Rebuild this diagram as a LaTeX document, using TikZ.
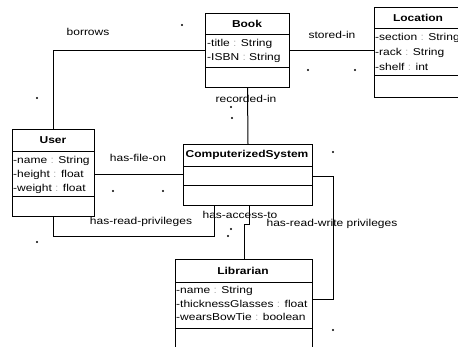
\documentclass[tikz,border=0pt]{standalone}
\usepackage{fontspec}
\setmainfont{Liberation Sans}[FakeStretch=1.2]
\begin{document}
\begin{tikzpicture}[x=1pt,y=-1pt,
  box/.style={draw, line width=1pt, inner sep=0pt, anchor=north west},
  hd/.style={font=\fontsize{10}{12}\selectfont\bfseries, inner sep=0pt},
  attr/.style={font=\fontsize{10}{12}\selectfont, anchor=west, inner sep=0pt},
  lbl/.style={font=\fontsize{10}{12}\selectfont, inner sep=0pt},
  conn/.style={line width=1pt},
  sep/.style={line width=1pt}]
\newcommand{\cl}{\textcolor{black!30}{:}}
\useasboundingbox (0,0) rectangle (458,347);
\clip (0,0) rectangle (458,347);

% class boxes
\node[box, minimum width=84pt, minimum height=74pt] (book) at (205,13) {};
\node[box, minimum width=92pt, minimum height=90pt] (loc) at (374,7) {};
\node[box, minimum width=82pt, minimum height=87pt] (user) at (12,129) {};
\node[box, minimum width=129pt, minimum height=61pt] (comp) at (183,144) {};
\node[box, minimum width=137pt, minimum height=95pt] (lib) at (175,259) {};

% compartments
\draw[sep] ([yshift=-22pt]book.north west) -- ([yshift=-22pt]book.north east);
\draw[sep] ([yshift=-55pt]book.north west) -- ([yshift=-55pt]book.north east);
\draw[sep] ([yshift=-22pt]loc.north west) -- ([yshift=-22pt]loc.north east);
\draw[sep] ([yshift=-69pt]loc.north west) -- ([yshift=-69pt]loc.north east);
\draw[sep] ([yshift=-23pt]user.north west) -- ([yshift=-23pt]user.north east);
\draw[sep] ([yshift=-68pt]user.north west) -- ([yshift=-68pt]user.north east);
\draw[sep] ([yshift=-23pt]comp.north west) -- ([yshift=-23pt]comp.north east);
\draw[sep] ([yshift=-42pt]comp.north west) -- ([yshift=-42pt]comp.north east);
\draw[sep] ([yshift=-24pt]lib.north west) -- ([yshift=-24pt]lib.north east);
\draw[sep] ([yshift=-70pt]lib.north west) -- ([yshift=-70pt]lib.north east);

% headers
\node[hd] (bookh) at (247,24) {Book};
\node[hd] (loch) at (418,18) {Location};
\node[hd] (userh) at (53,140) {User};
\node[hd] (comph) at (247,155) {ComputerizedSystem};
\node[hd] (libh) at (243,271) {Librarian};

% attributes
\node[attr] (b1) at (207,44) {-title \cl{} String};
\node[attr] (b2) at (207,58) {-ISBN \cl{} String};
\node[attr] (l1) at (375,38) {-section \cl{} String};
\node[attr] (l2) at (375,53) {-rack \cl{} String};
\node[attr] (l3) at (375,67) {-shelf \cl{} int};
\node[attr] (u1) at (13,161) {-name \cl{} String};
\node[attr] (u2) at (13,175) {-height \cl{} float};
\node[attr] (u3) at (13,189) {-weight \cl{} float};
\node[attr] (li1) at (176,291) {-name \cl{} String};
\node[attr] (li2) at (176,304) {-thicknessGlasses \cl{} float};
\node[attr] (li3) at (176,317) {-wearsBowTie \cl{} boolean};

% connectors
\draw[conn] (book.west) -| (user.north);
\draw[conn] (book.east) -- (book.east -| loc.west);
\draw[conn] (book.south) -- (comp.north);
\draw[conn] (comp.west -| user.east) -- (comp.west);
\coordinate (rp) at (214,237);
\draw[conn] (user.south) |- (rp) -- (rp |- comp.south);
\coordinate (ac) at (249,225);
\draw[conn] (ac |- comp.south) -- (ac) -- (244,225) -- (lib.north -| 244,0);
\coordinate (rw) at (333,300);
\draw[conn] ([yshift=-1.5pt]comp.east) -| (rw) -- (rw -| lib.east);

% labels
\node[lbl] (lborrow) at (88,32) {borrows};
\node[lbl] (lstored) at (332,35) {stored-in};
\node[lbl] (lrec) at (246,99) {recorded-in};
\node[lbl] (lfile) at (138,158) {has-file-on};
\node[lbl] (lread) at (141,222) {has-read-privileges};
\node[lbl] (lacc) at (240,215) {has-access-to};
\node[lbl] (lrw) at (332,224) {has-read-write privileges};

% small marks
\foreach \p in {(182,25),(37,98),(308,70),(355,70),(231,107),(232,118),(333,152),(113,191),(163,191),(37,242),(228,236),(231,229),(333,330)}
  \fill \p circle (1.1pt);
\end{tikzpicture}
\end{document}
